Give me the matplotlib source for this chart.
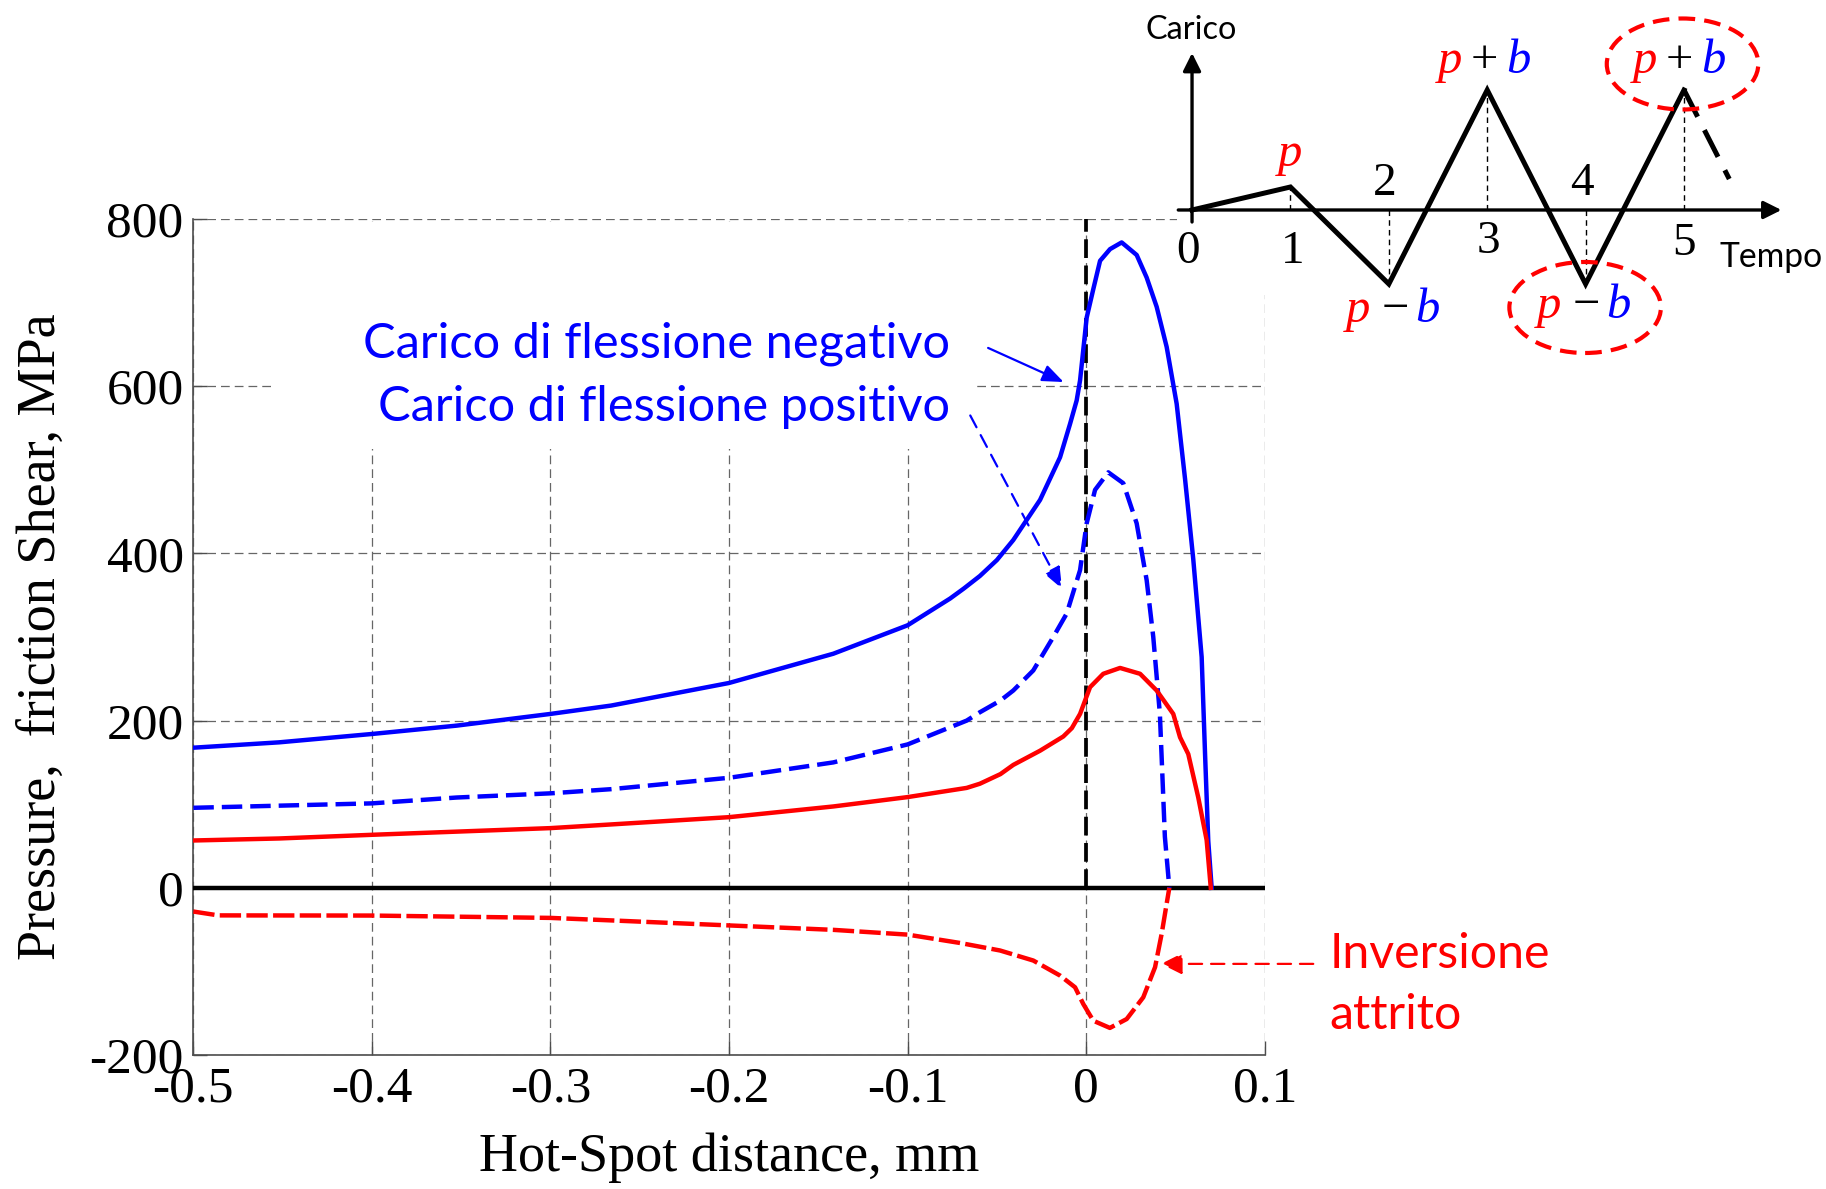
import matplotlib
matplotlib.use("Agg")
from matplotlib import pyplot as plt
from matplotlib.patches import Rectangle, Ellipse
import numpy as np

# curve data (x in mm, y in MPa)
neg_x = [-0.5, -0.452, -0.4, -0.3525, -0.3, -0.266, -0.2, -0.1416, -0.1, -0.0762, -0.0685, -0.0595,
         -0.05, -0.0408, -0.0258, -0.0146, -0.009, -0.0053, -0.0034, 0.0003, 0.004, 0.0078, 0.0134,
         0.0199, 0.0283, 0.0339, 0.0395, 0.0451, 0.0507, 0.0554, 0.06, 0.0647, 0.0666, 0.0684, 0.0703]
neg_y = [167.6, 174, 184, 194, 208, 218, 245, 280, 314, 346, 358, 373,
         392, 416, 464, 515, 555, 583, 607, 682, 716, 750, 764,
         772, 757, 730, 695, 647, 579, 489, 393, 276, 160, 56, 0]

pos_x = [-0.5, -0.4, -0.3525, -0.3, -0.266, -0.2, -0.1416, -0.1, -0.0669, -0.0595, -0.048, -0.0408,
         -0.0296, -0.0184, -0.0109, -0.0034, 0.0003, 0.005, 0.0124, 0.0208, 0.0283, 0.0339, 0.0376,
         0.0413, 0.0441, 0.0466]
pos_y = [95.7, 101, 108, 113, 118, 131.6, 150, 171.5, 200, 210, 224, 236,
         260, 300, 328, 380, 436, 476, 497, 484, 436, 368, 300,
         208, 61, 0]

press_x = [-0.5, -0.452, -0.4, -0.3, -0.266, -0.2, -0.1416, -0.1, -0.0669, -0.0595, -0.048, -0.0408,
           -0.0258, -0.0128, -0.008, -0.0034, 0.0022, 0.0096, 0.019, 0.0302, 0.0395, 0.0488, 0.0526,
           0.0572, 0.0628, 0.0675, 0.0698]
press_y = [56.6, 59, 63.4, 71.4, 75.8, 84.5, 97.3, 108.5, 119.5, 124.5, 136, 147,
           164, 181, 191, 208, 240, 256, 263, 256, 236, 208, 180,
           160, 108, 57, 0]

fric_x = [-0.5, -0.486, -0.4, -0.3, -0.266, -0.2, -0.1416, -0.1, -0.0706, -0.0482, -0.0296, -0.0146,
          -0.0062, -0.0016, 0.004, 0.0133, 0.0227, 0.032, 0.0386, 0.0423, 0.0451, 0.0466]
fric_y = [-28.4, -33, -33.2, -36, -39, -45, -50.3, -56, -66, -75, -87, -105,
          -119, -139, -159, -167.6, -157, -131, -95, -55, -19, 0]

xticks = [-0.5, -0.4, -0.3, -0.2, -0.1, 0, 0.1]
xtick_labels = ['-0.5', '-0.4', '-0.3', '-0.2', '-0.1', '0', '0.1']
yticks = [-200, 0, 200, 400, 600, 800]
ytick_labels = ['-200', '0', '200', '400', '600', '800']

# load history sketch (time steps, load)
p_load = 23
b_load = 97
hist_t = [0, 1, 2, 3, 4, 5]
hist_load = [0, p_load, p_load - b_load, p_load + b_load, p_load - b_load, p_load + b_load]
tail_t = [5, 5.46]
tail_load = [p_load + b_load, 31]

serif = 'Liberation Serif'
sans = 'Lato'
LW = 3.2

fig = plt.figure(figsize=(18.26, 11.89), dpi=100)
ax = fig.add_axes([0.1059, 0.1127, 0.5867, 0.7031])

ax.set_xlim(-0.5, 0.1)
ax.set_ylim(-200, 800)
ax.set_axisbelow(True)
ax.grid(True, color='0.4', lw=0.9, linestyle=(0, (7, 4)))
for s in ['top', 'right']:
    ax.spines[s].set_visible(False)
for s in ['left', 'bottom']:
    ax.spines[s].set_color('0.3')
    ax.spines[s].set_linewidth(1.2)

ax.set_xticks(xticks)
ax.set_xticklabels(xtick_labels, fontfamily=serif)
ax.set_yticks(yticks)
ax.set_yticklabels(ytick_labels, fontfamily=serif)
ax.tick_params(direction='in', length=10, width=1, color='0.3', labelsize=37)
ax.tick_params(axis='x', pad=8)
ax.tick_params(axis='y', pad=7)

ax.set_xlabel('Hot-Spot distance, mm', fontsize=39, fontfamily=serif)
ax.set_ylabel('Pressure,  friction Shear, MPa', fontsize=39, fontfamily=serif)
ax.xaxis.set_label_coords(0.5, -0.093)
ax.yaxis.set_label_coords(-0.118, 0.5)

# white box behind the annotation text hides part of the grid
ax.add_patch(Rectangle((-0.4537, 525), 0.392, 272, facecolor='white', edgecolor='none', zorder=1))

ax.axhline(0, color='black', lw=LW, zorder=3)
ax.plot([0, 0], [0, 800], color='black', lw=2.7, linestyle=(0, (5, 2)), zorder=3)

ax.plot(neg_x, neg_y, color='blue', lw=LW, zorder=4)
ax.plot(pos_x, pos_y, color='blue', lw=LW, linestyle=(0, (4.6, 1.8)), zorder=4)
ax.plot(press_x, press_y, color='red', lw=LW, zorder=4)
ax.plot(fric_x, fric_y, color='red', lw=LW, linestyle=(0, (4.8, 1.2)), zorder=4)

t_neg = ax.text(-0.0763, 634.3, 'Carico di flessione negativo', color='blue', fontfamily=sans,
                fontsize=36, ha='right', va='baseline', zorder=5)
t_pos = ax.text(-0.0763, 558.5, 'Carico di flessione positivo', color='blue', fontfamily=sans,
                fontsize=36, ha='right', va='baseline', zorder=5)
t_inv = ax.text(0.1362, -95.4, 'Inversione', color='red', fontfamily=sans, fontsize=36,
                ha='left', va='baseline', clip_on=False)
t_att = ax.text(0.1362, -168.4, 'attrito', color='red', fontfamily=sans, fontsize=36,
                ha='left', va='baseline', clip_on=False)

ax.annotate('', xy=(-0.0126, 605), xytext=(-0.0549, 645.8),
            arrowprops=dict(arrowstyle='-|>,head_length=0.5,head_width=0.2', color='blue', lw=1.6,
                            mutation_scale=26, shrinkA=0, shrinkB=0), zorder=5)
ax.annotate('', xy=(-0.0135, 357.8), xytext=(-0.0649, 565),
            arrowprops=dict(arrowstyle='-|>,head_length=0.5,head_width=0.2', color='blue', lw=1.6,
                            linestyle=(0, (6, 4)), mutation_scale=26, shrinkA=0, shrinkB=0), zorder=5)
ax.annotate('', xy=(0.0419, -91), xytext=(0.1272, -91), annotation_clip=False,
            arrowprops=dict(arrowstyle='-|>,head_length=0.5,head_width=0.25', color='red', lw=1.6,
                            linestyle=(0, (6, 4)), mutation_scale=26, shrinkA=0, shrinkB=0), zorder=5)

# ---- inset: load history ----
ax2 = fig.add_axes([0.6446, 0.7519, 0.3554, 0.2481], zorder=3)
ax2.set_facecolor('white')
ax2.set_xlim(-0.1524, 6.443)
ax2.set_ylim(-85, 210)
ax2.set_xticks([])
ax2.set_yticks([])
for s in ax2.spines.values():
    s.set_visible(False)

for t, v in zip(hist_t[1:], hist_load[1:]):
    ax2.plot([t, t], [0, v], color='black', lw=1.0, linestyle=(0, (4, 3)), clip_on=False)

ax2.annotate('', xy=(5.99, 0), xytext=(-0.14, 0), annotation_clip=False,
             arrowprops=dict(arrowstyle='-|>', color='black', lw=2.4, mutation_scale=27,
                             shrinkA=0, shrinkB=0))
ax2.annotate('', xy=(0, 157), xytext=(0, -12), annotation_clip=False,
             arrowprops=dict(arrowstyle='-|>', color='black', lw=2.4, mutation_scale=27,
                             shrinkA=0, shrinkB=0))

ax2.plot(hist_t, hist_load, color='black', lw=3.6, clip_on=False, solid_joinstyle='miter')
ax2.plot(tail_t, tail_load, color='black', lw=3.6, linestyle=(0, (6, 3)), clip_on=False)

num_pos = [(-0.04, -53), (1.02, -53), (1.96, 15), (3.01, -43), (3.96, 15), (5.0, -45)]
for i, (t, v) in enumerate(num_pos):
    ax2.text(t, v, str(i), fontfamily=serif, fontsize=34, ha='center', va='baseline', clip_on=False)

t_car = ax2.text(-0.47, 171, 'Carico', fontfamily=sans, fontsize=21, ha='left', va='baseline', clip_on=False)
t_tem = ax2.text(5.36, -57, 'Tempo', fontfamily=sans, fontsize=21, ha='left', va='baseline', clip_on=False)


def pb_label(tc, base, op, op_dx):
    ax2.text(tc - 0.36, base, 'p', color='red', fontfamily=serif, style='italic', fontsize=35,
             ha='center', va='baseline', clip_on=False, zorder=6)
    ax2.text(tc + op_dx, base, op, color='black', fontfamily=serif, fontsize=35,
             ha='center', va='baseline', clip_on=False, zorder=6)
    ax2.text(tc + 0.34, base, 'b', color='blue', fontfamily=serif, style='italic', fontsize=35,
             ha='center', va='baseline', clip_on=False, zorder=6)


ax2.text(1.0, 44, 'p', color='red', fontfamily=serif, style='italic', fontsize=35,
         ha='center', va='baseline', clip_on=False)
pb_label(2.98, 137, '+', -0.01)
pb_label(2.05, -112, '\u2212', 0.02)
pb_label(4.96, 137, '+', -0.01)
pb_label(3.99, -108, '\u2212', 0.02)

ax2.add_patch(Ellipse((4.985, 146), 1.54, 91, fill=False, edgecolor='red', lw=3.0,
                      linestyle=(0, (4, 2.2)), clip_on=False, zorder=5))
ax2.add_patch(Ellipse((3.995, -97.5), 1.54, 91, fill=False, edgecolor='red', lw=3.0,
                      linestyle=(0, (4, 2.2)), clip_on=False, zorder=5))

# fit the sans texts to the widths seen in the picture (pixels)
renderer = fig.canvas.get_renderer()


def fit(txt, target_px):
    w = txt.get_window_extent(renderer).width
    txt.set_fontsize(txt.get_fontsize() * target_px / w)
    return txt.get_fontsize()


fs = fit(t_neg, 587)
t_pos.set_fontsize(fs)
fs = fit(t_inv, 221)
t_att.set_fontsize(fs)
fit(t_car, 91)
fit(t_tem, 103)

fig.savefig('out.png', dpi=100)
